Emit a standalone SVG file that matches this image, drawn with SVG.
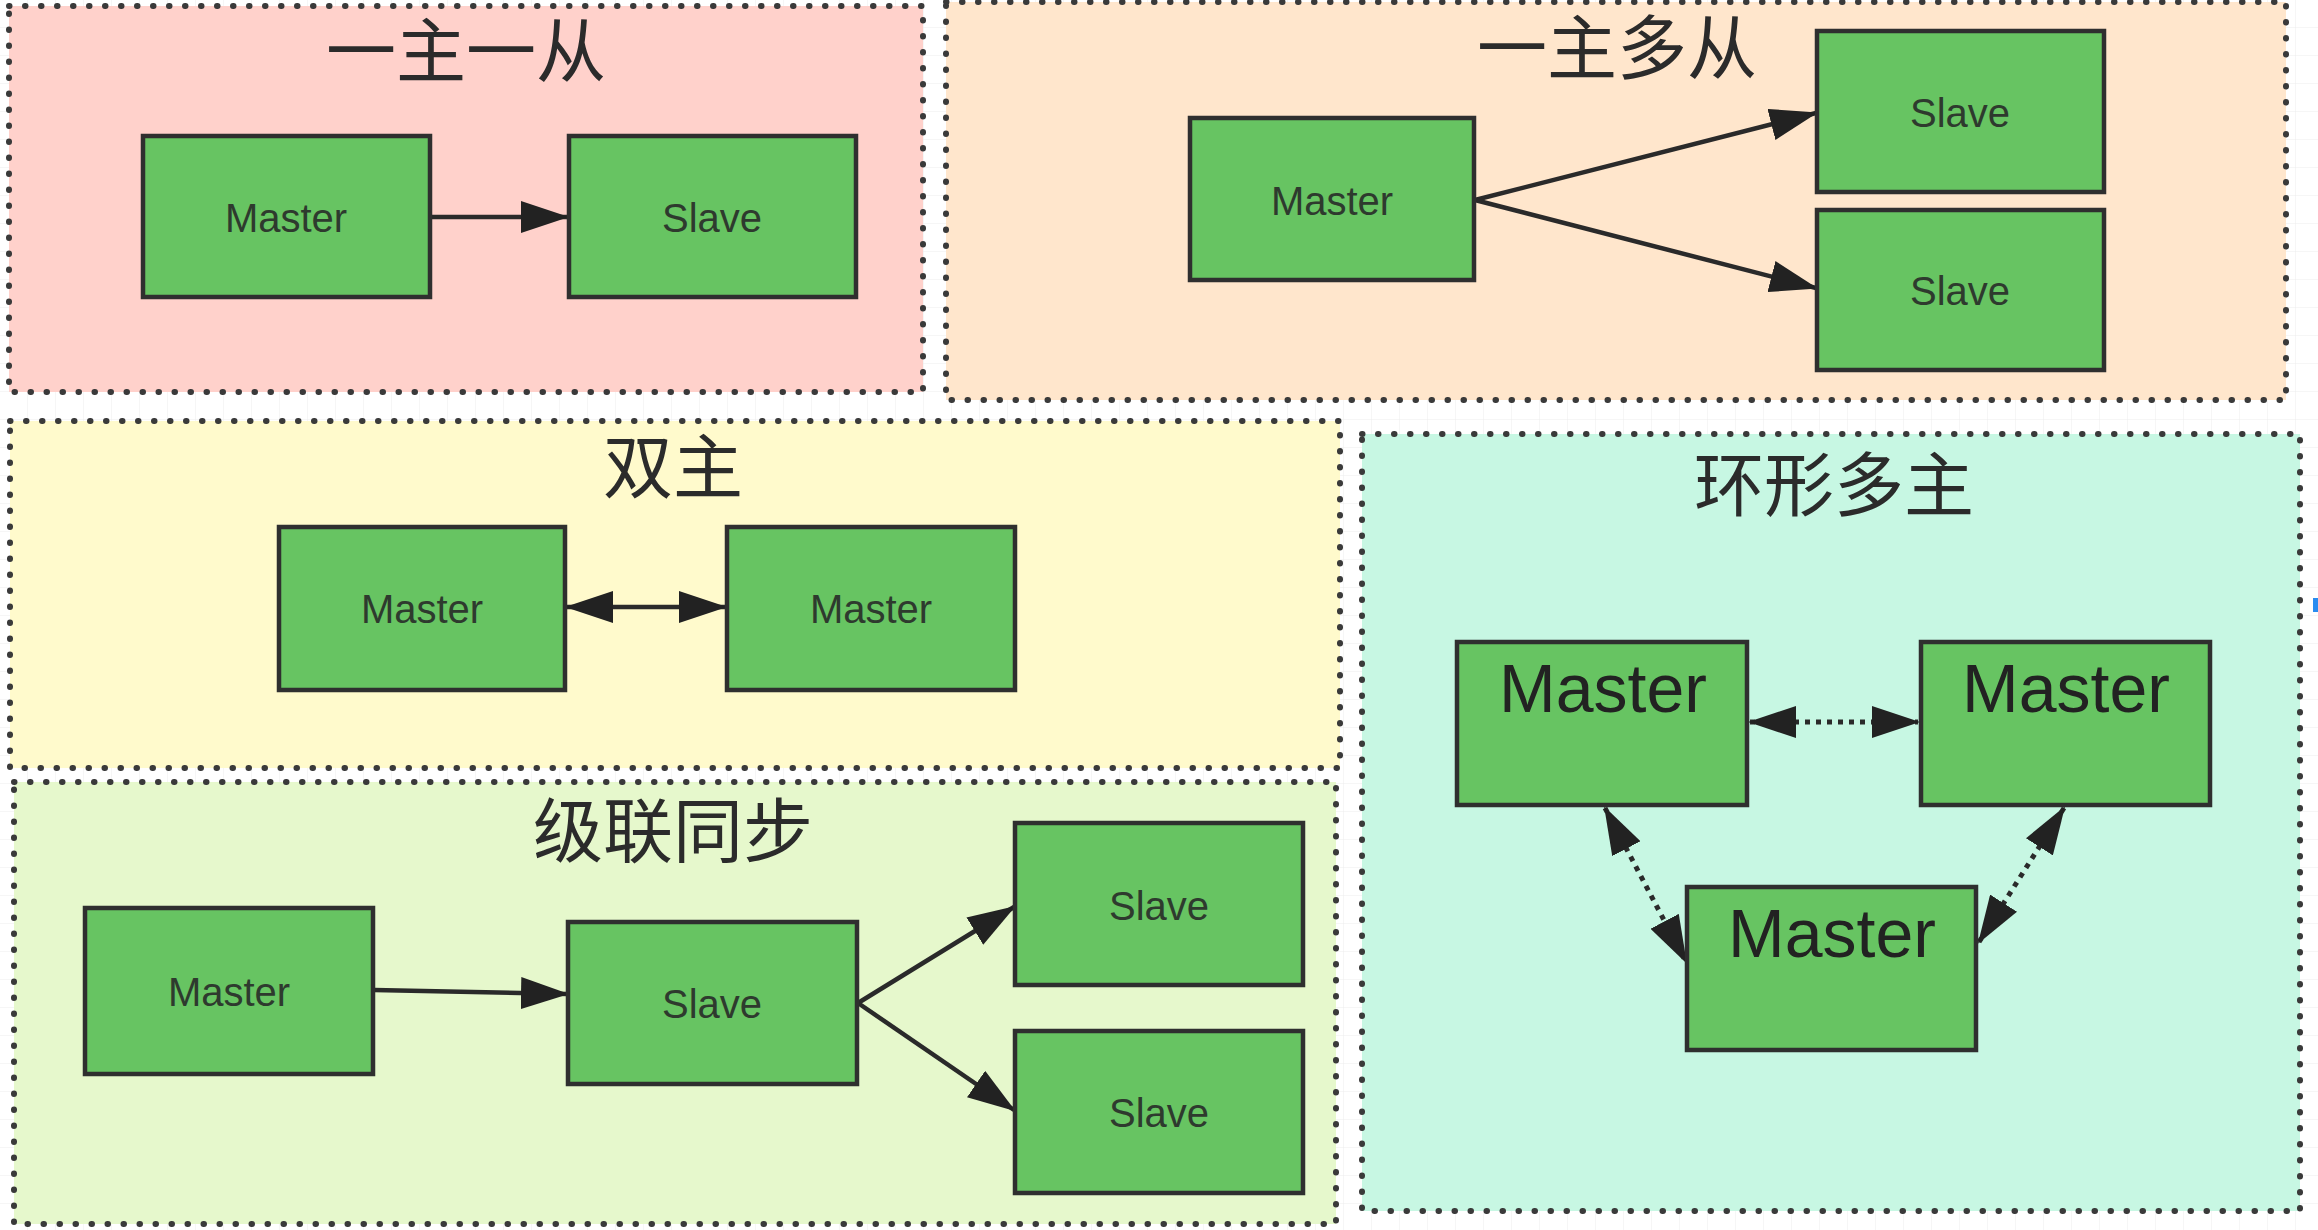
<svg xmlns="http://www.w3.org/2000/svg" width="2318" height="1230" viewBox="0 0 2318 1230">
<style>
.panel{stroke:#3a3a3a;stroke-width:6;stroke-dasharray:0.5 15.5;stroke-linecap:round}
.node{fill:#67c462;stroke:#2f2f2f;stroke-width:4.5}
.lbl{font-family:"Liberation Sans",Arial,sans-serif;font-size:40px;fill:#2e3a2e;text-anchor:middle;dominant-baseline:central}
.big{font-family:"Liberation Sans",Arial,sans-serif;font-size:68px;fill:#222;text-anchor:middle}
.title{font-family:"Noto Sans CJK SC","Noto Sans",sans-serif;font-size:70px;fill:#2b2b2b;text-anchor:middle}
.edge{stroke:#2a2a2a;stroke-width:4.5;fill:none}
.dot{stroke:#2a2a2a;stroke-width:5;fill:none;stroke-dasharray:5 6}
</style>
<defs>
<pattern id="grid" width="28" height="28" patternUnits="userSpaceOnUse">
<path d="M28 0 V28 M0 28 H28" stroke="#ececec" stroke-width="1" fill="none"/>
</pattern>
<marker id="arr" markerUnits="userSpaceOnUse" markerWidth="48" markerHeight="32" refX="46" refY="16" orient="auto-start-reverse">
<path d="M0 0 L48 16 L0 32 Z" fill="#222"/>
</marker>
</defs>
<rect x="0" y="0" width="2318" height="1230" fill="#ffffff"/>
<rect x="0" y="0" width="2318" height="1230" fill="url(#grid)"/>
<rect x="2313" y="598" width="5" height="14" fill="#2a8cf0"/>

<g id="panel-1">
<rect class="panel" x="9" y="6" width="914" height="386" fill="#ffd1cb"/>
<text class="title" x="466" y="77">一主一从</text>
</g>
<g id="panel-2">
<rect class="panel" x="946" y="2" width="1340" height="398" fill="#ffe6cc"/>
<text class="title" x="1617" y="74">一主多从</text>
</g>
<g id="panel-3">
<rect class="panel" x="10" y="421" width="1330" height="347" fill="#fffacc"/>
<text class="title" x="673" y="493">双主</text>
</g>
<g id="panel-4">
<rect class="panel" x="14" y="782" width="1322" height="442" fill="#e6f8cc"/>
<text class="title" x="673" y="857">级联同步</text>
</g>
<g id="panel-5">
<rect class="panel" x="1362" y="434" width="938" height="777" fill="#c7f7e3"/>
<text class="title" x="1834" y="511">环形多主</text>
</g>

<g id="connectors">
<line class="edge" x1="431" y1="217" x2="567" y2="217" marker-end="url(#arr)"/>
<line class="edge" x1="1475" y1="200" x2="1816" y2="113" marker-end="url(#arr)"/>
<line class="edge" x1="1475" y1="200" x2="1816" y2="288" marker-end="url(#arr)"/>
<line class="edge" x1="567" y1="607" x2="725" y2="607" marker-start="url(#arr)" marker-end="url(#arr)"/>
<line class="edge" x1="374" y1="990" x2="567" y2="994" marker-end="url(#arr)"/>
<line class="edge" x1="858" y1="1003" x2="1014" y2="907" marker-end="url(#arr)"/>
<line class="edge" x1="858" y1="1003" x2="1014" y2="1110" marker-end="url(#arr)"/>
<line class="dot" x1="1750" y1="722" x2="1918" y2="722" marker-start="url(#arr)" marker-end="url(#arr)"/>
<line class="dot" x1="1605" y1="808" x2="1686" y2="962" marker-start="url(#arr)" marker-end="url(#arr)"/>
<line class="dot" x1="2064" y1="808" x2="1979" y2="942" marker-start="url(#arr)" marker-end="url(#arr)"/>
</g>

<g id="p1-master"><rect class="node" x="143" y="136" width="287" height="161"/><text class="lbl" x="286" y="218">Master</text></g>
<g id="p1-slave"><rect class="node" x="569" y="136" width="287" height="161"/><text class="lbl" x="712" y="218">Slave</text></g>

<g id="p2-master"><rect class="node" x="1190" y="118" width="284" height="162"/><text class="lbl" x="1332" y="201">Master</text></g>
<g id="p2-slave1"><rect class="node" x="1817" y="31" width="287" height="161"/><text class="lbl" x="1960" y="113">Slave</text></g>
<g id="p2-slave2"><rect class="node" x="1817" y="210" width="287" height="160"/><text class="lbl" x="1960" y="291">Slave</text></g>

<g id="p3-master1"><rect class="node" x="279" y="527" width="286" height="163"/><text class="lbl" x="422" y="609">Master</text></g>
<g id="p3-master2"><rect class="node" x="727" y="527" width="288" height="163"/><text class="lbl" x="871" y="609">Master</text></g>

<g id="p4-master"><rect class="node" x="85" y="908" width="288" height="166"/><text class="lbl" x="229" y="992">Master</text></g>
<g id="p4-slave"><rect class="node" x="568" y="922" width="289" height="162"/><text class="lbl" x="712" y="1004">Slave</text></g>
<g id="p4-slave-top"><rect class="node" x="1015" y="823" width="288" height="162"/><text class="lbl" x="1159" y="906">Slave</text></g>
<g id="p4-slave-bottom"><rect class="node" x="1015" y="1031" width="288" height="162"/><text class="lbl" x="1159" y="1113">Slave</text></g>

<g id="p5-master-left"><rect class="node" x="1457" y="642" width="290" height="163"/><text class="big" x="1603" y="712">Master</text></g>
<g id="p5-master-right"><rect class="node" x="1921" y="642" width="289" height="163"/><text class="big" x="2066" y="712">Master</text></g>
<g id="p5-master-bottom"><rect class="node" x="1687" y="887" width="289" height="163"/><text class="big" x="1832" y="957">Master</text></g>
</svg>
